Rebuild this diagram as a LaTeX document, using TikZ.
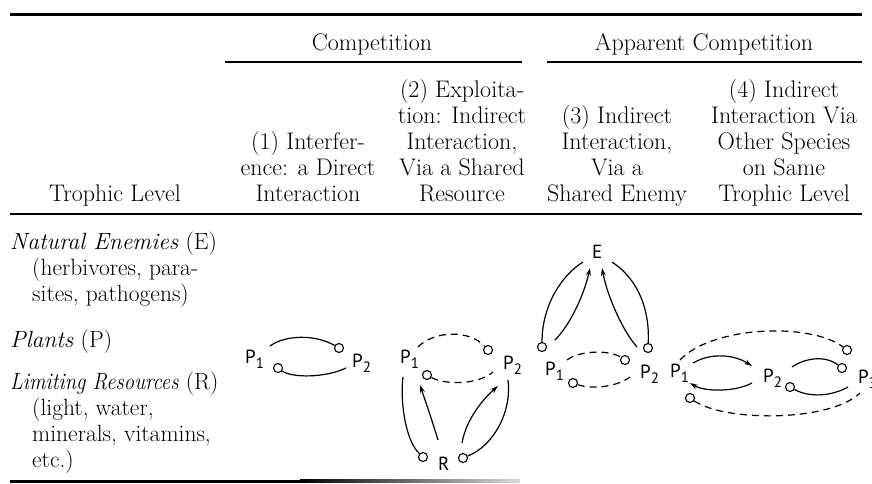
\documentclass[tikz,border=0pt]{standalone}
\usepackage{fontspec}
\newfontfamily\lab{PT Sans}
\usetikzlibrary{arrows.meta}
\tikzset{
 txt/.style={font=\fontsize{24}{26}\selectfont, inner sep=0pt, align=center, anchor=base},
 ltxt/.style={font=\fontsize{23.5}{26}\selectfont, inner sep=0pt, anchor=base west},
 lbl/.style={font=\lab\fontsize{19}{19}\selectfont, inner sep=0pt, anchor=base west},
 endc/.style={circle, draw, inner sep=0pt, minimum size=9pt, line width=1.1pt},
 link/.style={line width=1.2pt},
 dlink/.style={link, dash pattern=on 7pt off 5pt},
 arr/.style={link, -{Stealth[length=8pt,width=5pt]}},
 rulethick/.style={line width=3pt},
 rulethin/.style={line width=1.5pt},
}
\newcommand\psub[1]{\raisebox{-5pt}{\fontsize{15}{15}\selectfont #1}}
\begin{document}
\begin{tikzpicture}[x=1pt,y=-1pt]
\useasboundingbox (0,0) rectangle (872,483);
% ---- rules
\draw[rulethick] (10,14.5) -- (862,14.5);
\draw[rulethin] (225,62) -- (522,62);
\draw[rulethin] (547,62) -- (862,62);
\draw[line width=2pt] (10,214) -- (862,214);
\fill[black] (10,479.5) rectangle (300,482.5);
\shade[left color=black, right color=black!15] (300,479.5) rectangle (520,482.5);
% ---- headers
\node[txt] (comp) at (372,50) {Competition};
\node[txt] (app) at (704,50) {Apparent Competition};
\node[txt] (h0) at (115,201) {Trophic Level};
\node[txt] (h1) at (308,201) {(1) Interfer-\\ence: a Direct\\Interaction};
\node[txt] (h2) at (462,201) {(2) Exploita-\\tion: Indirect\\Interaction,\\Via a Shared\\Resource};
\node[txt] (h3) at (617,201) {(3) Indirect\\Interaction,\\Via a\\Shared Enemy};
\node[txt] (h4) at (784,201) {(4) Indirect\\Interaction Via\\Other Species\\on Same\\Trophic Level};
% ---- left column
\node[ltxt] (ne) at (10,249) {\textit{Natural Enemies} (E)};
\node[ltxt] (ne2) at (32,275) {(herbivores, para-};
\node[ltxt] (ne3) at (32,301) {sites, pathogens)};
\node[ltxt] (pl) at (10,347) {\textit{Plants} (P)};
\node[ltxt] (lr) at (10,389) {\scalebox{0.88}[1]{\textit{Limiting Resources}} (R)};
\node[ltxt] (lr2) at (32,415) {(light, water,};
\node[ltxt] (lr3) at (32,441) {minerals, vitamins,};
\node[ltxt] (lr4) at (32,467) {etc.)};
% ---- diagram 1
\node[lbl] (a1) at (245,363) {P\psub{1}};
\node[lbl] (a2) at (352,367) {P\psub{2}};
\node[endc] (a1c) at (278,368) {};
\node[endc] (a2c) at (339,348) {};
\coordinate (a1s) at (270,346);
\coordinate (a2s) at (346,368);
\draw[link] (a1s) .. controls (285,335) and (315,334) .. (a2c);
\draw[link] (a1c) .. controls (292,378) and (325,378) .. (a2s);
% ---- diagram 2
\node[lbl] (b1) at (400,363) {P\psub{1}};
\node[lbl] (b2) at (503,369) {P\psub{2}};
\node[lbl] (bR) at (438,470) {R};
\node[endc] (bc1) at (488,350) {};
\node[endc] (bc2) at (427,375) {};
\node[endc] (bc3) at (423,457) {};
\node[endc] (bc4) at (463,458) {};
\coordinate (bs1) at (418,347);
\coordinate (bs2) at (493,372);
\coordinate (bs3) at (403,377);
\coordinate (bs4) at (438,440);
\coordinate (bt4) at (420,385);
\coordinate (bs5) at (462,443);
\coordinate (bt5) at (498,386);
\coordinate (bs6) at (508,380);
\draw[dlink] (bs1) .. controls (435,330) and (470,330) .. (bc1);
\draw[dlink] (bc2) .. controls (445,385) and (478,385) .. (bs2);
\draw[link] (bc3) .. controls (405,440) and (400,400) .. (bs3);
\draw[arr] (bs4) .. controls (432,420) and (425,400) .. (bt4);
\draw[arr] (bs5) .. controls (466,420) and (482,400) .. (bt5);
\draw[link] (bc4) .. controls (495,445) and (512,410) .. (bs6);
% ---- diagram 3
\node[lbl] (eE) at (592,258) {E};
\node[lbl] (e1) at (545,375) {P\psub{1}};
\node[lbl] (e2) at (640,378) {P\psub{2}};
\node[endc] (ec1) at (542,347) {};
\node[endc] (ec2) at (648,348) {};
\node[endc] (ec3) at (625,360) {};
\node[endc] (ec4) at (573,383) {};
\coordinate (es1) at (583,262);
\coordinate (es2) at (555,340);
\coordinate (et2) at (590,268);
\coordinate (es3) at (637,347);
\coordinate (et3) at (602,268);
\coordinate (es4) at (612,262);
\coordinate (es5) at (567,360);
\coordinate (es6) at (630,377);
\draw[link] (es1) .. controls (562,275) and (542,305) .. (ec1);
\draw[arr] (es2) .. controls (570,325) and (584,295) .. (et2);
\draw[arr] (es3) .. controls (622,330) and (607,295) .. (et3);
\draw[link] (es4) .. controls (635,277) and (650,305) .. (ec2);
\draw[dlink] (es5) .. controls (580,350) and (610,350) .. (ec3);
\draw[dlink] (ec4) .. controls (590,389) and (615,388) .. (es6);
% ---- diagram 4
\node[lbl] (f1) at (670,377) {P\psub{1}};
\node[lbl] (f2) at (763,382) {P\psub{2}};
\node[lbl] (f3) at (858,383) {P\psub{3}};
\node[endc] (fc1) at (847,350) {};
\node[endc] (fc2) at (842,368) {};
\node[endc] (fc3) at (790,387) {};
\node[endc] (fc4) at (690,398) {};
\coordinate (fs1) at (693,363);
\coordinate (ft1) at (752,366);
\coordinate (fs2) at (752,383);
\coordinate (ft2) at (690,383);
\coordinate (fs3) at (792,367);
\coordinate (fs4) at (848,387);
\coordinate (fs5) at (680,360);
\coordinate (fs6) at (860,393);
\draw[arr] (fs1) .. controls (712,352) and (735,355) .. (ft1);
\draw[arr] (fs2) .. controls (735,392) and (705,392) .. (ft2);
\draw[link] (fs3) .. controls (805,358) and (825,355) .. (fc2);
\draw[link] (fc3) .. controls (810,398) and (832,396) .. (fs4);
\draw[dlink] (fs5) .. controls (712,326) and (810,322) .. (fc1);
\draw[dlink] (fc4) .. controls (725,422) and (830,422) .. (fs6);
\end{tikzpicture}
\end{document}
